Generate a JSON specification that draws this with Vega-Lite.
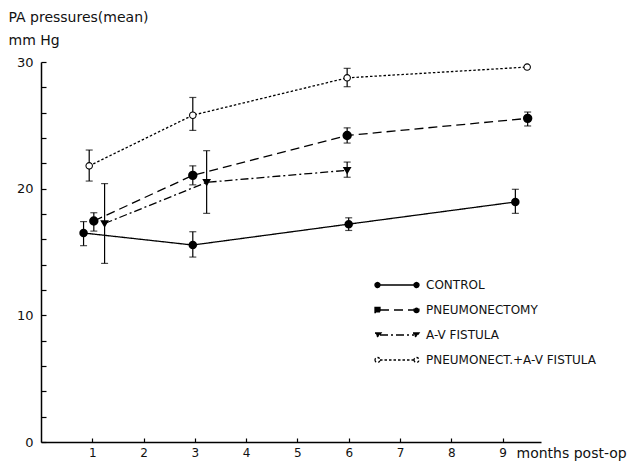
{
  "$schema": "https://vega.github.io/schema/vega-lite/v6.json",
  "width": 500,
  "height": 380,
  "autosize": {"type": "none"},
  "padding": {"left": 41, "top": 62, "right": 88, "bottom": 22},
  "background": "white",
  "config": {
    "view": {"stroke": null},
    "font": "DejaVu Sans",
    "axis": {"domainColor": "black", "domainWidth": 1.5, "tickColor": "black", "tickWidth": 1.2, "labelColor": "#111", "titleColor": "#111", "grid": false, "labelFont": "DejaVu Sans", "titleFont": "DejaVu Sans", "titleFontWeight": "normal", "labelOverlap": false}
  },
  "data": {
    "values": [
      {"series": "CONTROL", "month": 0.83, "value": 16.5, "lo": 15.5, "hi": 17.4},
      {"series": "CONTROL", "month": 2.96, "value": 15.55, "lo": 14.6, "hi": 16.6},
      {"series": "CONTROL", "month": 6.0, "value": 17.2, "lo": 16.7, "hi": 17.7},
      {"series": "CONTROL", "month": 9.25, "value": 18.95, "lo": 18.05, "hi": 19.95},
      {"series": "PNEUMONECTOMY", "month": 1.03, "value": 17.45, "lo": 16.65, "hi": 18.1},
      {"series": "PNEUMONECTOMY", "month": 2.96, "value": 21.05, "lo": 20.3, "hi": 21.8},
      {"series": "PNEUMONECTOMY", "month": 5.97, "value": 24.2, "lo": 23.6, "hi": 24.8},
      {"series": "PNEUMONECTOMY", "month": 9.49, "value": 25.55, "lo": 24.95, "hi": 26.05},
      {"series": "A-V FISTULA", "month": 1.24, "value": 17.25, "lo": 14.1, "hi": 20.4},
      {"series": "A-V FISTULA", "month": 3.23, "value": 20.5, "lo": 18.05, "hi": 23.0},
      {"series": "A-V FISTULA", "month": 5.97, "value": 21.45, "lo": 20.9, "hi": 22.1},
      {"series": "PNEUMONECT.+A-V FISTULA", "month": 0.94, "value": 21.8, "lo": 20.6, "hi": 23.05},
      {"series": "PNEUMONECT.+A-V FISTULA", "month": 2.96, "value": 25.8, "lo": 24.6, "hi": 27.2},
      {"series": "PNEUMONECT.+A-V FISTULA", "month": 5.97, "value": 28.75, "lo": 28.05, "hi": 29.5},
      {"series": "PNEUMONECT.+A-V FISTULA", "month": 9.48, "value": 29.6, "lo": null, "hi": null}
    ]
  },
  "encoding": {
    "x": {
      "field": "month", "type": "quantitative",
      "scale": {"domain": [0, 9.75], "nice": false, "zero": false},
      "axis": {
        "values": [1, 2, 3, 4, 5, 6, 7, 8, 9],
        "tickSize": -4,
        "labelPadding": 9,
        "labelFontSize": 12,
        "labelOverlap": false,
        "title": "months post-op",
        "titleFontSize": 14,
        "titleAlign": "left",
        "titleBaseline": "top",
        "titleAnchor": "start",
        "titleX": 475,
        "titleY": 4
      }
    },
    "y": {
      "field": "value", "type": "quantitative",
      "scale": {"domain": [0, 30], "nice": false},
      "axis": {
        "values": [0, 2, 4, 6, 8, 10, 12, 14, 16, 18, 20, 22, 24, 26, 28, 30],
        "labelExpr": "datum.value == 0 || datum.value == 10 || datum.value == 20 || datum.value == 30 ? datum.label : ''",
        "labelOverlap": false,
        "labelFlush": false,
        "labelBound": false,
        "tickSize": -5,
        "labelPadding": 13,
        "labelFontSize": 13,
        "title": ["PA pressures(mean)", "mm Hg"],
        "titleFontSize": 14,
        "titleAngle": 0,
        "titleAlign": "left",
        "titleBaseline": "alphabetic",
        "titleLineHeight": 23,
        "titleX": -33,
        "titleY": -41
      }
    }
  },
  "layer": [
    {
      "mark": {"type": "line", "color": "black", "strokeWidth": 1.3},
      "encoding": {
        "strokeDash": {
          "field": "series", "type": "nominal",
          "scale": {
            "domain": ["CONTROL", "PNEUMONECTOMY", "A-V FISTULA", "PNEUMONECT.+A-V FISTULA"],
            "range": [[1, 0], [9, 5], [8, 3, 2, 3], [2.5, 2]]
          },
          "legend": {
            "orient": "none",
            "legendX": 350,
            "legendY": 217,
            "title": null,
            "padding": 0,
            "labelFontSize": 12,
            "labelColor": "#111",
            "labelLimit": 400,
            "labelOffset": 23,
            "rowPadding": 13,
            "symbolSize": 4,
            "symbolStrokeWidth": 1.3,
            "symbolStrokeColor": "black",
            "symbolOpacity": 1,
            "symbolFillColor": {"expr": "datum.value === 'PNEUMONECT.+A-V FISTULA' ? 'white' : 'black'"},
            "symbolType": {"expr": "datum.value === 'CONTROL' ? 'M-17,0L17,0M-22,0a2.5,2.5 0 1,0 5,0a2.5,2.5 0 1,0 -5,0M17,0a2.5,2.5 0 1,0 5,0a2.5,2.5 0 1,0 -5,0' : datum.value === 'PNEUMONECTOMY' ? 'M-17,0L17,0M-22,-2.5L-17,-2.5L-17,2.5L-22,2.5ZM17,0a2.5,2.5 0 1,0 5,0a2.5,2.5 0 1,0 -5,0' : datum.value === 'A-V FISTULA' ? 'M-17,0L17,0M-22,-2L-16,-2L-19,2ZM16,-2L22,-2L19,2Z' : 'M-17,0L17,0M-22,0a2.5,2.5 0 1,0 5,0a2.5,2.5 0 1,0 -5,0M17,0a2.5,2.5 0 1,0 5,0a2.5,2.5 0 1,0 -5,0'"}
          }
        }
      }
    },
    {
      "mark": {"type": "rule", "color": "black", "strokeWidth": 1.2},
      "encoding": {
        "y": {"field": "lo", "type": "quantitative"},
        "y2": {"field": "hi"}
      }
    },
    {
      "mark": {"type": "tick", "orient": "horizontal", "color": "black", "size": 7, "thickness": 1.2},
      "encoding": {"y": {"field": "lo", "type": "quantitative"}}
    },
    {
      "mark": {"type": "tick", "orient": "horizontal", "color": "black", "size": 7, "thickness": 1.2},
      "encoding": {"y": {"field": "hi", "type": "quantitative"}}
    },
    {
      "transform": [{"filter": "datum.series === 'CONTROL'"}],
      "mark": {"type": "point", "shape": "circle", "filled": true, "fill": "black", "stroke": "black", "opacity": 1, "size": 42}
    },
    {
      "transform": [{"filter": "datum.series === 'PNEUMONECTOMY'"}],
      "mark": {"type": "point", "shape": "circle", "filled": true, "fill": "black", "stroke": "black", "opacity": 1, "size": 55}
    },
    {
      "transform": [{"filter": "datum.series === 'A-V FISTULA'"}],
      "mark": {"type": "point", "shape": "triangle-down", "filled": true, "fill": "black", "stroke": "black", "opacity": 1, "size": 28}
    },
    {
      "transform": [{"filter": "datum.series === 'PNEUMONECT.+A-V FISTULA'"}],
      "mark": {"type": "point", "shape": "circle", "filled": true, "fill": "white", "stroke": "black", "strokeWidth": 1.1, "opacity": 1, "size": 42}
    }
  ]
}
